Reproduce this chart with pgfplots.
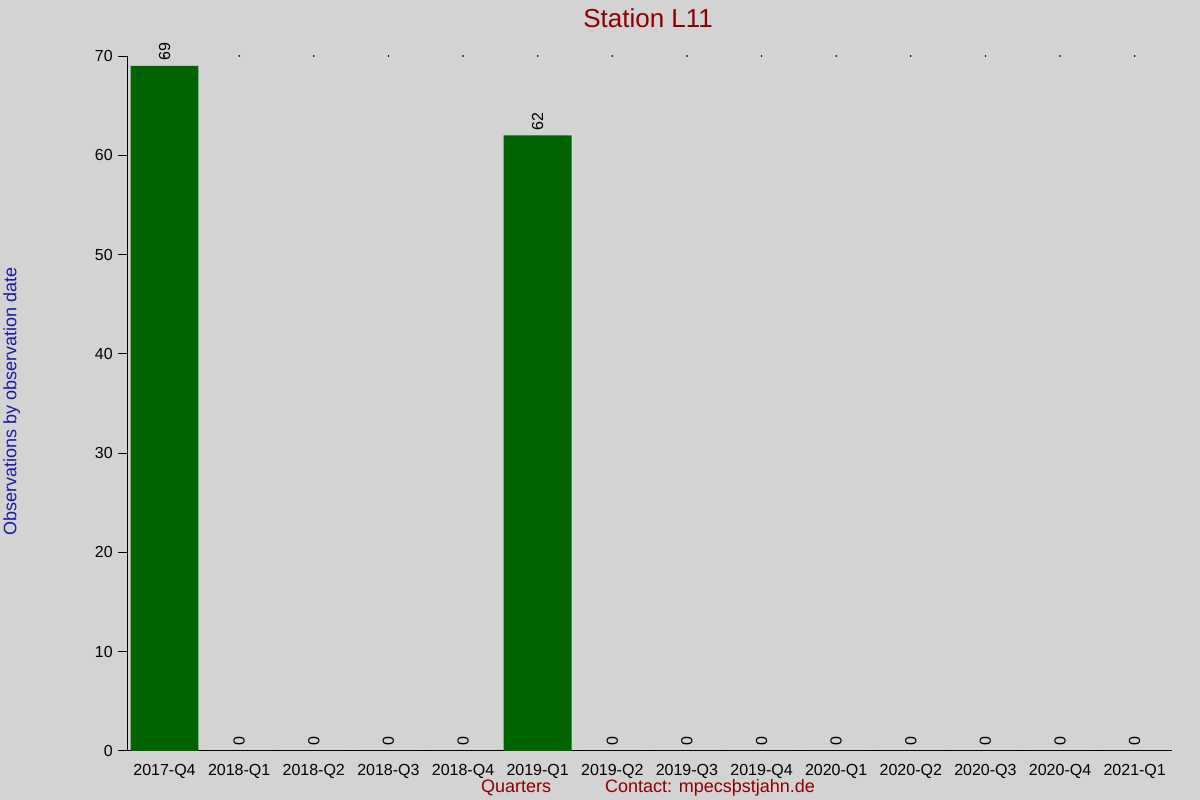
\documentclass[border=0pt]{standalone}
\usepackage{pgfplots}
\pgfplotsset{compat=1.18}
\usepackage{fontspec}
\setmainfont{Liberation Sans}

\definecolor{bg}{HTML}{D3D3D3}
\definecolor{bargreen}{HTML}{006400}
\definecolor{titlered}{HTML}{8B0000}
\definecolor{labelblue}{HTML}{1A1AA0}

\begin{document}
\begin{tikzpicture}[x=1bp,y=1bp]
  \fill[bg] (0,0) rectangle (1200,800);
  \begin{axis}[
      at={(127bp,49bp)}, anchor=south west,
      scale only axis, width=1045bp, height=695bp,
      xmin=-0.5, xmax=13.5, ymin=0, ymax=70,
      axis x line=bottom, axis y line=left,
      axis line style={-, black, line width=0.8bp},
      xtick={0,...,13},
      xticklabels={2017-Q4,2018-Q1,2018-Q2,2018-Q3,2018-Q4,2019-Q1,2019-Q2,2019-Q3,2019-Q4,2020-Q1,2020-Q2,2020-Q3,2020-Q4,2021-Q1},
      major x tick style={draw=none},
      ytick={0,10,...,70},
      tick align=outside,
      major tick length=9bp,
      major y tick style={black, line width=0.8bp},
      ticklabel style={font=\fontsize{16bp}{19bp}\selectfont, text=black},
      /pgf/number format/assume math mode=true,
      yticklabel style={xshift=-2bp},
      xticklabel style={yshift=-1bp},
      clip=false,
    ]
    \addplot[ybar, bar width=68bp, fill=bargreen, draw=none,
      nodes near coords,
      every node near coord/.append style={rotate=90, anchor=west,
        font=\fontsize{16bp}{19bp}\selectfont, text=black, inner sep=5bp}]
      coordinates {
        (0,69) (1,0) (2,0) (3,0) (4,0) (5,62) (6,0)
        (7,0) (8,0) (9,0) (10,0) (11,0) (12,0) (13,0)
      };
    \addplot[only marks, mark=*, mark size=0.6bp, black]
      coordinates {
        (0,70) (1,70) (2,70) (3,70) (4,70) (5,70) (6,70)
        (7,70) (8,70) (9,70) (10,70) (11,70) (12,70) (13,70)
      };
  \end{axis}
  \node[text=titlered, font=\fontsize{26bp}{30bp}\selectfont] at (648,782) {Station L11};
  \node[text=labelblue, font=\fontsize{18bp}{21bp}\selectfont, rotate=90] at (11.5,398) {Observations by observation date};
  \node[text=titlered, font=\fontsize{18bp}{21bp}\selectfont, anchor=base] at (516,7) {Quarters};
  \node[text=titlered, font=\fontsize{18bp}{21bp}\selectfont, anchor=base] at (710,7) {Contact: mpecsþstjahn.de};
  \useasboundingbox (0,0) rectangle (1200,800);
\end{tikzpicture}
\end{document}
